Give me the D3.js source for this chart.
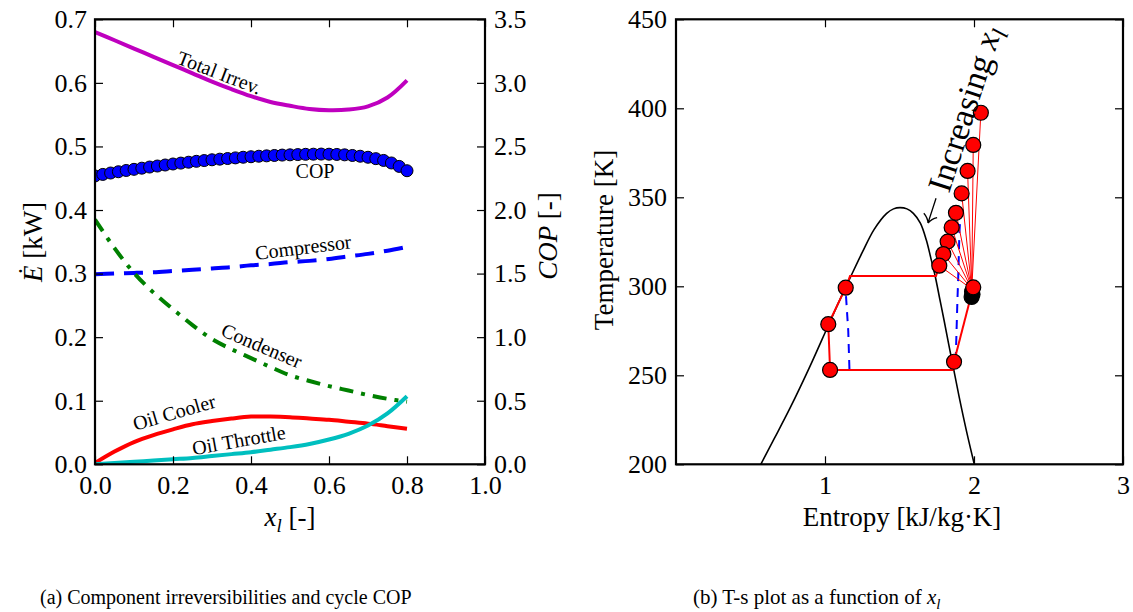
<!DOCTYPE html>
<html><head><meta charset="utf-8">
<script src="https://cdn.jsdelivr.net/npm/d3@7"></script>
<style>
body{margin:0;background:#fff;}
svg{display:block;}
svg text{font-family:"Liberation Serif","DejaVu Serif",serif !important;}
</style></head>
<body>
<svg id="c" width="1133" height="612"></svg>
<script>
// ---------- Left chart data ----------
const xl = [0,0.05,0.1,0.15,0.2,0.25,0.3,0.35,0.4,0.45,0.5,0.55,0.6,0.65,0.7,0.75,0.8];
const totalIrrev = [0.680,0.667,0.654,0.641,0.628,0.615,0.602,0.590,0.579,0.570,0.564,0.559,0.557,0.558,0.563,0.577,0.604];
const compressor = [0.299,0.300,0.301,0.302,0.304,0.306,0.308,0.310,0.313,0.315,0.318,0.320,0.323,0.327,0.331,0.336,0.342];
const condenser  = [0.385,0.340,0.301,0.270,0.244,0.219,0.197,0.181,0.167,0.153,0.140,0.131,0.123,0.116,0.109,0.103,0.0985];
const oilCooler  = [0.002,0.020,0.035,0.046,0.055,0.063,0.068,0.072,0.075,0.075,0.074,0.072,0.070,0.067,0.064,0.060,0.056];
const oilThrottle= [0.000,0.002,0.004,0.006,0.008,0.010,0.013,0.016,0.019,0.023,0.027,0.032,0.039,0.048,0.061,0.080,0.107];
const xlCop = [0,0.02,0.04,0.06,0.08,0.1,0.12,0.14,0.16,0.18,0.2,0.22,0.24,0.26,0.28,0.3,0.32,0.34,0.36,0.38,0.4,
               0.42,0.44,0.46,0.48,0.5,0.52,0.54,0.56,0.58,0.6,0.62,0.64,0.66,0.68,0.7,0.72,0.74,0.76,0.78,0.8];
const cop = [2.268,2.280,2.291,2.301,2.311,2.320,2.329,2.338,2.346,2.354,2.362,2.369,2.376,2.383,2.389,2.395,2.400,2.405,2.410,2.415,2.419,
             2.423,2.426,2.429,2.432,2.434,2.436,2.438,2.439,2.440,2.439,2.437,2.434,2.429,2.423,2.415,2.404,2.390,2.370,2.343,2.309];
const leftXTicks = [0,0.2,0.4,0.6,0.8,1.0];
const leftYTicks = [0,0.1,0.2,0.3,0.4,0.5,0.6,0.7];
const copTicks = [0,0.5,1.0,1.5,2.0,2.5,3.0,3.5];

// ---------- Right chart data ----------
const domeS = [0.569,0.660,0.765,0.899,1.022,1.100,1.170,1.250,1.330,1.414,1.460,1.503,1.550,1.593,1.640,1.680,1.710,1.740,1.770,1.800,1.830,1.862,1.900,1.950,2.002];
const domeT = [200,214.5,231.5,255,278,292.5,305,319,332,341,343.5,344.2,343.5,341,335.5,326,316,305.5,293,280.5,267.5,254,238,218.5,200];
const cycleS = [1.862,1.034,1.022,1.139,1.168,1.745,1.767];
const cycleT = [253.0,253.0,278.7,299.2,305.8,305.8,311.4];
const lowS = [1.866,1.995];
const lowT = [257.6,299.4];
const upS = [2.046,1.995,1.957,1.917,1.879,1.850,1.823,1.794,1.767];
const upT = [397.5,379.4,364.8,352.2,341.3,333.1,325.1,318.1,311.6];
const fanS = 1.985, fanT = 298.5;
const markS = [1.034,1.022,1.139,1.866,1.995];
const markT = [253.0,278.7,299.2,257.6,299.4];
const blackS = [1.984,1.990,1.987];
const blackT = [294.0,295.5,297.0];
const blueLS = [1.164,1.156,1.139];
const blueLT = [253.5,275,297];
const blueRS = [1.877,1.888,1.896,1.902,1.920];
const blueRT = [258,290,310,330,354];
const blueSS = [1.783,1.830,1.875,1.920];
const blueST = [313.8,330,343,354];
const rightXTicks = [1,2,3];
const rightYTicks = [200,250,300,350,400,450];

const svg = d3.select("#c");
const FS = 26;     // tick labels
const FA = 27;     // axis titles
const FONT = "Liberation Serif";

function frame(g, x0, x1, y0, y1) {
  g.append("rect").attr("x", x0).attr("y", y1).attr("width", x1-x0).attr("height", y0-y1)
    .attr("fill","none").attr("stroke","#000").attr("stroke-width",2.2);
}
function styleAxis(a){
  a.attr("font-family",FONT).attr("font-size",FS);
  a.select(".domain").remove();
  a.selectAll("line").attr("stroke","#000").attr("stroke-width",1.2);
  a.selectAll("text").attr("font-size",FS).attr("fill","#000");
}

// ================= LEFT CHART =================
const xL = d3.scaleLinear([0,1],[95,485]);
const yL = d3.scaleLinear([0,0.7],[464.3,19.3]);
const yR = d3.scaleLinear([0,3.5],[464.3,19.3]);

const defs = svg.append("defs");
defs.append("clipPath").attr("id","clipL")
  .append("rect").attr("x",95).attr("y",19.3).attr("width",390).attr("height",445);

const gL = svg.append("g");
const lineL = (ys) => d3.line().x((d,i)=>xL(xl[i])).y(d=>yL(d)).curve(d3.curveCatmullRom.alpha(0.5))(ys);
const plotL = gL.append("g").attr("clip-path","url(#clipL)");
plotL.append("path").attr("d", lineL(totalIrrev)).attr("fill","none").attr("stroke","#bf00bf").attr("stroke-width",4);
plotL.append("path").attr("d", lineL(compressor)).attr("fill","none").attr("stroke","#0000ff").attr("stroke-width",4).attr("stroke-dasharray","19,10");
plotL.append("path").attr("d", lineL(condenser)).attr("fill","none").attr("stroke","#008000").attr("stroke-width",4).attr("stroke-dasharray","14,8,4,8");
plotL.append("path").attr("d", lineL(oilCooler)).attr("fill","none").attr("stroke","#ff0000").attr("stroke-width",4);
plotL.append("path").attr("d", lineL(oilThrottle)).attr("fill","none").attr("stroke","#00bfbf").attr("stroke-width",4);
plotL.selectAll("circle.cop").data(cop).join("circle").attr("class","cop")
  .attr("cx",(d,i)=>xL(xlCop[i])).attr("cy",d=>yR(d)).attr("r",6)
  .attr("fill","#0000ff").attr("stroke","#000").attr("stroke-width",1);

const axL = gL.append("g").attr("transform","translate(95,0)")
  .call(d3.axisLeft(yL).tickValues(leftYTicks).tickSize(-8).tickPadding(8).tickFormat(d3.format(".1f")));
const axR = gL.append("g").attr("transform","translate(485,0)")
  .call(d3.axisRight(yR).tickValues(copTicks).tickSize(-8).tickPadding(9).tickFormat(d3.format(".1f")));
const axB = gL.append("g").attr("transform","translate(0,464.3)")
  .call(d3.axisBottom(xL).tickValues(leftXTicks).tickSize(-8).tickPadding(11).tickFormat(d3.format(".1f")));
const axT = gL.append("g").attr("transform","translate(0,19.3)")
  .call(d3.axisTop(xL).tickValues(leftXTicks).tickSize(-8).tickFormat(""));
[axL,axR,axB,axT].forEach(styleAxis);
frame(gL, 95, 485, 464.3, 19.3);

const labs = [
  {t:"Total Irrev.", x:217, y:79, r:21},
  {t:"COP", x:315, y:178, r:0},
  {t:"Compressor", x:304, y:254, r:-7},
  {t:"Condenser", x:259, y:352, r:23},
  {t:"Oil Cooler", x:176, y:419, r:-16},
  {t:"Oil Throttle", x:240, y:447, r:-10}
];
gL.selectAll("text.lab").data(labs).join("text").attr("class","lab")
  .attr("transform",d=>`translate(${d.x},${d.y}) rotate(${d.r})`)
  .attr("text-anchor","middle").attr("font-size",20).text(d=>d.t);

gL.append("text").attr("transform","translate(42,242) rotate(-90)").attr("text-anchor","middle").attr("font-size",FA)
  .call(t=>{t.append("tspan").attr("font-style","italic").text("Ė");t.append("tspan").text(" [kW]");});
gL.append("text").attr("transform","translate(557,236) rotate(-90)").attr("text-anchor","middle").attr("font-size",FA)
  .call(t=>{t.append("tspan").attr("font-style","italic").text("COP");t.append("tspan").text(" [-]");});
gL.append("text").attr("x",290).attr("y",526).attr("text-anchor","middle").attr("font-size",FA)
  .call(t=>{t.append("tspan").attr("font-style","italic").text("x");
            t.append("tspan").attr("font-style","italic").attr("font-size",19).attr("dy",6).text("l");
            t.append("tspan").attr("dy",-6).text(" [-]");});

// ================= RIGHT CHART =================
const xs = d3.scaleLinear([0,3],[676,1123]);
const yT = d3.scaleLinear([200,450],[464.3,19.3]);
defs.append("clipPath").attr("id","clipR")
  .append("rect").attr("x",676).attr("y",19.3).attr("width",447).attr("height",445);
const gR = svg.append("g");
const plotR = gR.append("g").attr("clip-path","url(#clipR)");
const lineR = (S,T,curve) => d3.line().x((d,i)=>xs(S[i])).y((d,i)=>yT(T[i])).curve(curve||d3.curveLinear)(S);

plotR.append("path").attr("d", lineR(domeS,domeT,d3.curveCatmullRom.alpha(0.5)))
  .attr("fill","none").attr("stroke","#000").attr("stroke-width",1.6);
[[blueLS,blueLT],[blueRS,blueRT],[blueSS,blueST]].forEach(([S,T])=>{
  plotR.append("path").attr("d", lineR(S,T)).attr("fill","none").attr("stroke","#0000ff")
    .attr("stroke-width",2).attr("stroke-dasharray","9,7");
});
upS.forEach((s,i)=>{
  plotR.append("line").attr("x1",xs(fanS)).attr("y1",yT(fanT)).attr("x2",xs(s)).attr("y2",yT(upT[i]))
    .attr("stroke","#ff0000").attr("stroke-width",1);
});
plotR.append("path").attr("d", lineR(cycleS,cycleT)).attr("fill","none").attr("stroke","#ff0000").attr("stroke-width",2);
plotR.append("path").attr("d", lineR(lowS,lowT)).attr("fill","none").attr("stroke","#ff0000").attr("stroke-width",2);
plotR.selectAll("circle.blk").data(blackS).join("circle").attr("class","blk")
  .attr("cx",d=>xs(d)).attr("cy",(d,i)=>yT(blackT[i])).attr("r",7.5)
  .attr("fill","#000").attr("stroke","#000").attr("stroke-width",1.2);
plotR.selectAll("circle.up").data(upS).join("circle").attr("class","up")
  .attr("cx",d=>xs(d)).attr("cy",(d,i)=>yT(upT[i])).attr("r",7.5)
  .attr("fill","#ff0000").attr("stroke","#000").attr("stroke-width",1.2);
plotR.selectAll("circle.mk").data(markS).join("circle").attr("class","mk")
  .attr("cx",d=>xs(d)).attr("cy",(d,i)=>yT(markT[i])).attr("r",7.5)
  .attr("fill","#ff0000").attr("stroke","#000").attr("stroke-width",1.2);

const rL = gR.append("g").attr("transform","translate(676,0)")
  .call(d3.axisLeft(yT).tickValues(rightYTicks).tickSize(-8).tickPadding(9).tickFormat(d3.format("d")));
const rR = gR.append("g").attr("transform","translate(1123,0)")
  .call(d3.axisRight(yT).tickValues(rightYTicks).tickSize(-8).tickFormat(""));
const rB = gR.append("g").attr("transform","translate(0,464.3)")
  .call(d3.axisBottom(xs).tickValues(rightXTicks).tickSize(-8).tickPadding(11).tickFormat(d3.format("d")));
const rT = gR.append("g").attr("transform","translate(0,19.3)")
  .call(d3.axisTop(xs).tickValues(rightXTicks).tickSize(-8).tickFormat(""));
[rL,rR,rB,rT].forEach(styleAxis);
frame(gR, 676, 1123, 464.3, 19.3);

gR.append("text").attr("transform","translate(613,240) rotate(-90)").attr("text-anchor","middle").attr("font-size",FA)
  .text("Temperature [K]");
gR.append("text").attr("x",902).attr("y",526).attr("text-anchor","middle").attr("font-size",FA)
  .text("Entropy [kJ/kg\u00B7K]");

// "Increasing x_l" annotation with arrow
const ann = gR.append("g").attr("transform","translate(928,223) rotate(-72)");
ann.append("path").attr("d","M0,0 L26,0 M0,0 Q5,-2 8,-7 M0,0 Q5,2 8,7")
  .attr("fill","none").attr("stroke","#000").attr("stroke-width",1.3);
ann.append("text").attr("x",34).attr("y",11).attr("font-size",34)
  .call(t=>{t.append("tspan").text("Increasing ");
            t.append("tspan").attr("font-style","italic").text("x");
            t.append("tspan").attr("font-style","italic").attr("font-size",24).attr("dy",7).text("l");});

// ================= CAPTIONS =================
svg.append("text").attr("x",40).attr("y",604).attr("font-size",20)
  .text("(a) Component irreversibilities and cycle COP");
const capB = svg.append("text").attr("x",693).attr("y",604).attr("font-size",21);
capB.append("tspan").text("(b) T-s plot as a function of ");
capB.append("tspan").attr("font-style","italic").text("x");
capB.append("tspan").attr("font-style","italic").attr("font-size",15).attr("dy",5).text("l");
</script>
</body></html>
